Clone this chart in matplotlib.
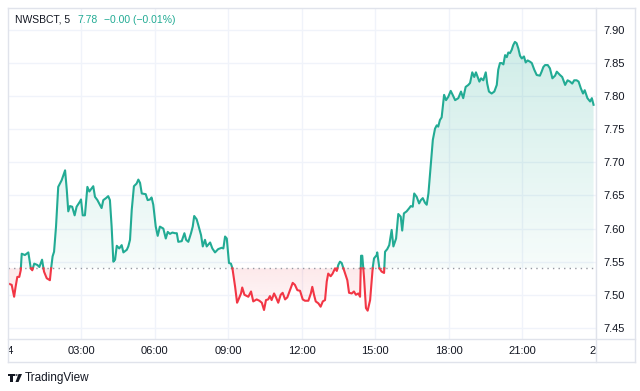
import numpy as np
import matplotlib
matplotlib.use("Agg")
import matplotlib.pyplot as plt
from matplotlib.lines import Line2D
from matplotlib.path import Path
from matplotlib.patches import Polygon, Circle
from matplotlib.transforms import Bbox, TransformedBbox

# 5-minute chart, hours after midnight and price
hours = [
    0.03, 0.10, 0.17, 0.27, 0.33, 0.40, 0.48, 0.54, 0.58, 0.71, 0.85, 0.95, 1.01, 1.09,
    1.22, 1.30, 1.41, 1.49, 1.60, 1.73, 1.78, 1.84, 1.90, 1.98, 2.07, 2.21, 2.35, 2.42,
    2.48, 2.55, 2.64, 2.74, 2.82, 2.96, 3.00, 3.07, 3.16, 3.26, 3.34, 3.44, 3.50, 3.57,
    3.67, 3.84, 3.91, 4.02, 4.11, 4.18, 4.25, 4.32, 4.39, 4.46, 4.56, 4.66, 4.73, 4.87,
    4.93, 5.00, 5.07, 5.16, 5.27, 5.34, 5.41, 5.48, 5.64, 5.72, 5.82, 5.88, 5.95, 6.05,
    6.13, 6.22, 6.36, 6.46, 6.54, 6.63, 6.73, 6.84, 6.91, 6.97, 7.11, 7.22, 7.29, 7.38,
    7.49, 7.56, 7.62, 7.72, 7.79, 7.90, 7.97, 8.06, 8.13, 8.27, 8.36, 8.47, 8.60, 8.74,
    8.81, 8.88, 8.95, 9.04, 9.12, 9.18, 9.29, 9.37, 9.42, 9.53, 9.58, 9.67, 9.83, 9.94,
    10.03, 10.17, 10.28, 10.38, 10.47, 10.55, 10.64, 10.71, 10.78, 10.88, 10.96, 11.05,
    11.15, 11.23, 11.33, 11.42, 11.53, 11.64, 11.73, 11.83, 11.94, 12.05, 12.14, 12.28,
    12.38, 12.44, 12.51, 12.58, 12.69, 12.78, 12.87, 12.96, 13.03, 13.09, 13.19, 13.27,
    13.37, 13.44, 13.50, 13.57, 13.64, 13.71, 13.78, 13.87, 13.94, 14.05, 14.14, 14.22,
    14.32, 14.39, 14.43, 14.48, 14.55, 14.63, 14.70, 14.80, 14.91, 14.96, 15.07, 15.09,
    15.18, 15.27, 15.37, 15.41, 15.50, 15.58, 15.68, 15.75, 15.86, 15.95, 16.05, 16.11,
    16.18, 16.29, 16.40, 16.46, 16.54, 16.60, 16.70, 16.80, 16.87, 16.95, 17.04, 17.11,
    17.18, 17.27, 17.36, 17.45, 17.52, 17.58, 17.65, 17.72, 17.82, 17.90, 17.99, 18.09,
    18.17, 18.27, 18.40, 18.51, 18.60, 18.70, 18.81, 18.88, 18.97, 19.05, 19.12, 19.19,
    19.26, 19.33, 19.42, 19.52, 19.58, 19.65, 19.76, 19.87, 19.97, 20.03, 20.10, 20.17,
    20.24, 20.31, 20.38, 20.44, 20.51, 20.58, 20.64, 20.71, 20.78, 20.85, 20.92, 20.99,
    21.08, 21.15, 21.23, 21.33, 21.40, 21.50, 21.60, 21.73, 21.80, 21.87, 21.94, 22.05,
    22.14, 22.24, 22.35, 22.42, 22.55, 22.64, 22.76, 22.86, 22.96, 23.05, 23.13, 23.23,
    23.31, 23.40, 23.49, 23.56, 23.67, 23.78, 23.85, 23.92,
]
prices = [
    7.517, 7.516, 7.515, 7.497, 7.512, 7.527, 7.527, 7.537, 7.562, 7.560, 7.564, 7.540,
    7.537, 7.547, 7.545, 7.542, 7.553, 7.535, 7.525, 7.522, 7.540, 7.558, 7.565, 7.603,
    7.663, 7.673, 7.688, 7.658, 7.626, 7.634, 7.633, 7.620, 7.633, 7.641, 7.644, 7.620,
    7.620, 7.663, 7.656, 7.661, 7.664, 7.648, 7.643, 7.631, 7.643, 7.646, 7.649, 7.643,
    7.603, 7.550, 7.553, 7.574, 7.570, 7.575, 7.564, 7.568, 7.573, 7.583, 7.628, 7.664,
    7.668, 7.674, 7.669, 7.653, 7.652, 7.643, 7.644, 7.647, 7.636, 7.603, 7.589, 7.603,
    7.600, 7.585, 7.595, 7.592, 7.594, 7.593, 7.593, 7.580, 7.581, 7.593, 7.583, 7.580,
    7.593, 7.603, 7.619, 7.614, 7.605, 7.590, 7.573, 7.583, 7.573, 7.579, 7.570, 7.564,
    7.569, 7.571, 7.570, 7.588, 7.585, 7.548, 7.547, 7.540, 7.512, 7.488, 7.492, 7.502,
    7.511, 7.500, 7.497, 7.505, 7.490, 7.493, 7.491, 7.488, 7.477, 7.492, 7.493, 7.498,
    7.492, 7.502, 7.496, 7.488, 7.500, 7.503, 7.493, 7.496, 7.507, 7.518, 7.515, 7.507,
    7.506, 7.493, 7.491, 7.491, 7.502, 7.512, 7.500, 7.490, 7.487, 7.482, 7.490, 7.492,
    7.520, 7.532, 7.528, 7.532, 7.540, 7.536, 7.545, 7.550, 7.548, 7.540, 7.532, 7.522,
    7.503, 7.502, 7.505, 7.500, 7.502, 7.497, 7.559, 7.559, 7.527, 7.480, 7.476, 7.492,
    7.542, 7.555, 7.560, 7.564, 7.540, 7.535, 7.533, 7.565, 7.569, 7.575, 7.598, 7.573,
    7.585, 7.622, 7.618, 7.597, 7.623, 7.626, 7.631, 7.634, 7.633, 7.653, 7.648, 7.638,
    7.643, 7.646, 7.639, 7.636, 7.653, 7.693, 7.734, 7.751, 7.756, 7.754, 7.764, 7.768,
    7.802, 7.794, 7.799, 7.808, 7.802, 7.794, 7.797, 7.807, 7.797, 7.814, 7.817, 7.820,
    7.836, 7.829, 7.836, 7.829, 7.822, 7.827, 7.824, 7.836, 7.819, 7.807, 7.804, 7.807,
    7.817, 7.840, 7.850, 7.850, 7.848, 7.862, 7.859, 7.866, 7.865, 7.870, 7.877, 7.882,
    7.880, 7.872, 7.861, 7.857, 7.860, 7.851, 7.854, 7.852, 7.850, 7.840, 7.832, 7.831,
    7.837, 7.844, 7.847, 7.847, 7.842, 7.827, 7.831, 7.837, 7.832, 7.829, 7.817, 7.824,
    7.822, 7.819, 7.824, 7.824, 7.822, 7.812, 7.804, 7.809, 7.797, 7.792, 7.797, 7.787,
]
base_price = 7.54
price_ticks = [7.45, 7.50, 7.55, 7.60, 7.65, 7.70, 7.75, 7.80, 7.85, 7.90]
time_ticks = [0, 3, 6, 9, 12, 15, 18, 21, 24]
time_labels = ["24", "03:00", "06:00", "09:00", "12:00", "15:00", "18:00", "21:00", "25"]
legend_parts = ["NWSBCT, 5", "7.78", "\u22120.00 (\u22120.01%)"]

UP = "#22ab94"
DOWN = "#f23645"
GRID = "#f0f3fa"
BORDER = "#e0e3eb"
TXT = "#131722"

plt.rcParams["font.family"] = ["Liberation Sans", "DejaVu Sans"]

W, H = 640, 391
fig = plt.figure(figsize=(W / 100, H / 100), dpi=100)
fig.patch.set_facecolor("white")


def fx(x):
    return x / W


def fy(y):
    return 1 - y / H


L, R, T, B = 8, 596, 8, 339
RR = 635
ax = fig.add_axes([fx(L), fy(B), fx(R - L), fy(T) - fy(B)])
for s in ax.spines.values():
    s.set_visible(False)

ax.set_yticks(price_ticks)
ax.set_xticks(time_ticks)
ax.grid(True, color=GRID, lw=1)
ax.set_axisbelow(True)
ax.tick_params(axis="x", length=0, labelbottom=False)
ax.yaxis.tick_right()
ax.tick_params(axis="y", length=0, pad=5, labelsize=8, labelcolor=TXT)
ax.set_yticklabels(["%.2f" % v for v in price_ticks])

# insert the crossing points with the baseline so the colours switch cleanly
x = np.array(hours)
y = np.array(prices)
xs, ys = [x[0]], [y[0]]
for i in range(1, len(x)):
    if (y[i - 1] - base_price) * (y[i] - base_price) < 0:
        t = (base_price - y[i - 1]) / (y[i] - y[i - 1])
        xs.append(x[i - 1] + t * (x[i] - x[i - 1]))
        ys.append(base_price)
    xs.append(x[i])
    ys.append(y[i])
xs = np.array(xs)
ys = np.array(ys)


def gradient_fill(mask, color, a_far, a_near, y_far):
    poly = ax.fill_between(xs, ys, base_price, where=mask, interpolate=True,
                           facecolor="none", edgecolor="none")
    paths = poly.get_paths()
    if not paths:
        return
    path = Path.make_compound_path(*paths)
    rgb = matplotlib.colors.to_rgb(color)
    n = 256
    img = np.zeros((n, 1, 4))
    img[:, 0, :3] = rgb
    img[:, 0, 3] = np.linspace(a_near, a_far, n)
    lo, hi = sorted([base_price, y_far])
    if y_far < base_price:
        img = img[::-1]
    im = ax.imshow(img, aspect="auto", origin="lower",
                   extent=[xs[0], xs[-1], lo, hi], zorder=1)
    im.set_clip_path(path, transform=ax.transData)


gradient_fill(ys >= base_price, UP, 0.22, 0.04, 7.89)
gradient_fill(ys <= base_price, DOWN, 0.03, 0.11, 7.47)
ax.set_xlim(0.02, 24.02)
ax.set_ylim(7.4332, 7.9332)

ax.axhline(base_price, color="#9598a1", lw=1, ls=(0, (1, 3)), zorder=2)

up_line = np.where(ys >= base_price, ys, np.nan)
down_line = np.where(ys <= base_price, ys, np.nan)
ax.plot(xs, up_line, color=UP, lw=1.5, zorder=3, solid_joinstyle="round")
ax.plot(xs, down_line, color=DOWN, lw=1.5, zorder=3, solid_joinstyle="round")

# time axis labels, clipped to the time strip
clip = TransformedBbox(Bbox([[fx(L), fy(362)], [fx(R), fy(B)]]), fig.transFigure)
for h, lab in zip(time_ticks, time_labels):
    t = ax.text(h, -(351 - B) / (B - T), lab, transform=ax.get_xaxis_transform(),
                fontsize=8, color=TXT, ha="center", va="center")
    t.set_clip_on(True)
    t.set_clip_box(clip)

# frame lines
for (x0, y0, x1, y1) in [(L, T, RR, T), (L, B, RR, B), (L, 362, RR, 362),
                         (L, T, L, 362), (R, T, R, 362), (RR, T, RR, 362)]:
    fig.add_artist(Line2D([fx(x0), fx(x1)], [fy(y0), fy(y1)], color=BORDER, lw=1))

# legend, pieces placed one after another
renderer = fig.canvas.get_renderer()
cur = 15
for part, col in zip(legend_parts, [TXT, UP, UP]):
    t = fig.text(fx(cur), fy(20), part, fontsize=7.5, color=col, va="center")
    cur = t.get_window_extent(renderer).x1 + 7

# TradingView footer
logo = [
    Polygon([(fx(8), fy(374)), (fx(15), fy(374)), (fx(15), fy(376)), (fx(13), fy(376)),
             (fx(13), fy(382)), (fx(10), fy(382)), (fx(10), fy(376)), (fx(8), fy(376))],
            closed=True, facecolor=TXT, edgecolor="none", transform=fig.transFigure),
    Circle((fx(16.5), fy(375)), 1.2 / W, facecolor=TXT, edgecolor="none",
           transform=fig.transFigure),
    Polygon([(fx(18.5), fy(374)), (fx(22), fy(374)), (fx(18.5), fy(382)), (fx(15.5), fy(382))],
            closed=True, facecolor=TXT, edgecolor="none", transform=fig.transFigure),
]
for p in logo:
    fig.add_artist(p)
fig.text(fx(25), fy(378), "TradingView", fontsize=8.5, color=TXT, va="center")

fig.savefig("out.png", dpi=100, facecolor="white")
